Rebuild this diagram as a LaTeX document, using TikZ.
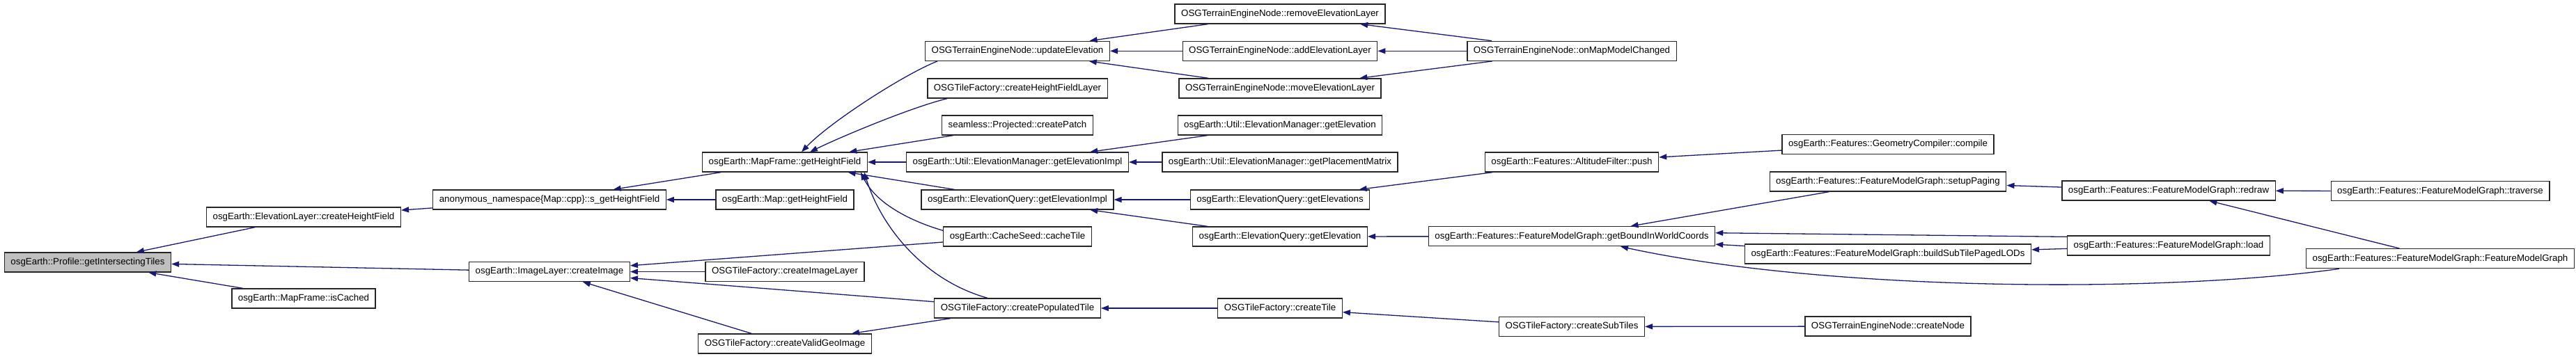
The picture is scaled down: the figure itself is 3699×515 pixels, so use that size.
\documentclass[tikz,border=0pt]{standalone}
\usepackage{fontspec}
\setmainfont{Liberation Sans}
\usetikzlibrary{arrows.meta}

\definecolor{edgeblue}{HTML}{191970}
\definecolor{rootgray}{HTML}{BFBFBF}

\begin{document}
\begin{tikzpicture}[x=1pt, y=-1pt,
    fn/.style={draw=black!85, line width=1.3pt, fill=white, rectangle,
        inner xsep=9pt, inner ysep=0pt, minimum height=28pt,
        font=\fontsize{13.33}{16}\selectfont},
    rootfn/.style={fn, fill=rootgray},
    call/.style={draw=edgeblue, line width=1.3pt,
        -{Stealth[length=11pt, width=8pt, inset=0pt]}}]
    \useasboundingbox (0,0) rectangle (3699,515);

    % Function being called
    \node[rootfn] (p) at (126,377) {osgEarth::Profile::getIntersectingTiles};

    % Callers, one column per rank
    \node[fn] (elchf) at (436,312) {osgEarth::ElevationLayer::createHeightField};
    \node[fn] (mfic) at (436,429) {osgEarth::MapFrame::isCached};

    \node[fn] (sgh) at (789,287) {anonymous\_namespace\{Map::cpp\}::s\_getHeightField};
    \node[fn] (ilci) at (789,390.5) {osgEarth::ImageLayer::createImage};

    \node[fn] (mfghf) at (1127,233) {osgEarth::MapFrame::getHeightField};
    \node[fn] (mghf) at (1127,287) {osgEarth::Map::getHeightField};
    \node[fn] (cil) at (1127,390.5) {OSGTileFactory::createImageLayer};
    \node[fn] (cvgi) at (1127,494) {OSGTileFactory::createValidGeoImage};

    \node[fn] (updelev) at (1461,73.3) {OSGTerrainEngineNode::updateElevation};
    \node[fn] (chfl) at (1461,127) {OSGTileFactory::createHeightFieldLayer};
    \node[fn] (patch) at (1461,180) {seamless::Projected::createPatch};
    \node[fn] (emimpl) at (1461,233) {osgEarth::Util::ElevationManager::getElevationImpl};
    \node[fn] (eqimpl) at (1461,287) {osgEarth::ElevationQuery::getElevationImpl};
    \node[fn] (cache) at (1461,340) {osgEarth::CacheSeed::cacheTile};
    \node[fn] (cpt) at (1461,443) {OSGTileFactory::createPopulatedTile};

    \node[fn] (remel) at (1838,20) {OSGTerrainEngineNode::removeElevationLayer};
    \node[fn] (addel) at (1838,73.3) {OSGTerrainEngineNode::addElevationLayer};
    \node[fn] (movel) at (1838,127) {OSGTerrainEngineNode::moveElevationLayer};
    \node[fn] (emelev) at (1838,180) {osgEarth::Util::ElevationManager::getElevation};
    \node[fn] (emplace) at (1838,233) {osgEarth::Util::ElevationManager::getPlacementMatrix};
    \node[fn] (eqelevs) at (1838,287) {osgEarth::ElevationQuery::getElevations};
    \node[fn] (eqelev) at (1838,340) {osgEarth::ElevationQuery::getElevation};
    \node[fn] (ctile) at (1838,443) {OSGTileFactory::createTile};

    \node[fn] (mapchg) at (2257,73.3) {OSGTerrainEngineNode::onMapModelChanged};
    \node[fn] (altpush) at (2257,233) {osgEarth::Features::AltitudeFilter::push};
    \node[fn] (bound) at (2257,339.7) {osgEarth::Features::FeatureModelGraph::getBoundInWorldCoords};
    \node[fn] (subtiles) at (2257,469.5) {OSGTileFactory::createSubTiles};

    \node[fn] (compile) at (2711,207.5) {osgEarth::Features::GeometryCompiler::compile};
    \node[fn] (paging) at (2711,261) {osgEarth::Features::FeatureModelGraph::setupPaging};
    \node[fn] (sublods) at (2711,365) {osgEarth::Features::FeatureModelGraph::buildSubTilePagedLODs};
    \node[fn] (cnode) at (2711,469) {OSGTerrainEngineNode::createNode};

    \node[fn] (redraw) at (3114,274) {osgEarth::Features::FeatureModelGraph::redraw};
    \node[fn] (load) at (3114,353) {osgEarth::Features::FeatureModelGraph::load};

    \node[fn] (traverse) at (3504,274.7) {osgEarth::Features::FeatureModelGraph::traverse};
    \node[fn] (fmg) at (3504,371.7) {osgEarth::Features::FeatureModelGraph::FeatureModelGraph};

    % Straight calls (caller -> callee)
    \foreach \a/\b in {elchf/p, ilci/p, mfic/p, sgh/elchf, mfghf/sgh, mghf/sgh,
            patch/mfghf, emimpl/mfghf, eqimpl/mfghf, cil/ilci, cache/ilci,
            cpt/ilci, cvgi/ilci, cpt/cvgi, remel/updelev, addel/updelev,
            movel/updelev, emelev/emimpl, emplace/emimpl, eqelevs/eqimpl,
            eqelev/eqimpl, ctile/cpt, mapchg/remel, mapchg/addel, mapchg/movel,
            altpush/eqelevs, bound/eqelev, subtiles/ctile, compile/altpush,
            paging/bound, sublods/bound, cnode/subtiles, redraw/paging,
            load/sublods, traverse/redraw, fmg/redraw} {
        \draw[call] (\a) -- (\b);
    }

    % Bent calls
    \draw[call] ([xshift=18pt]updelev.south west) .. controls +(-50,20) and +(40,-42) .. ([xshift=24pt]mfghf.north);
    \draw[call] ([xshift=29pt]chfl.south west) .. controls +(-50,12) and +(45,-22) .. ([xshift=36pt]mfghf.north);
    \draw[call] ([yshift=-6pt]cache.north west) .. controls +(-35,-10) and +(25,50) .. ([xshift=-10pt]mfghf.south east);
    \draw[call] ([xshift=-43pt]cpt.north) .. controls +(-90,-25) and +(25,80) .. ([xshift=-5pt]mfghf.south east);
    \draw[call] ([yshift=-2pt]load.north west) -- ([yshift=5pt]bound.east);
    \draw[call] ([xshift=48pt]fmg.south west) .. controls +(-250,35) and +(300,65) .. ([xshift=70pt]bound.south);
\end{tikzpicture}
\end{document}
